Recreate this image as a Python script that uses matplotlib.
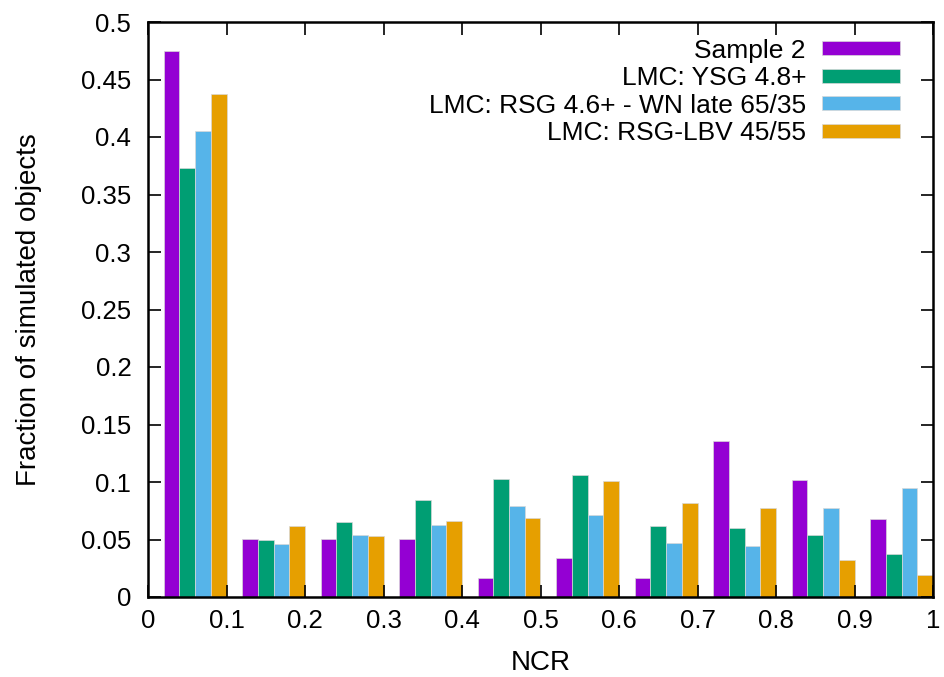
import numpy as np
import matplotlib.pyplot as plt
from matplotlib.patches import Rectangle

plt.rcParams['font.family'] = ['Liberation Sans', 'DejaVu Sans']

# NCR bins (left edges) and the fraction of objects in each bin
bin_left = [0.0, 0.1, 0.2, 0.3, 0.4, 0.5, 0.6, 0.7, 0.8, 0.9]
sample2 = [0.4746, 0.0508, 0.0508, 0.0508, 0.0169, 0.0339, 0.0169, 0.1356, 0.1017, 0.0678]
ysg = [0.373, 0.050, 0.065, 0.084, 0.103, 0.106, 0.062, 0.060, 0.054, 0.037]
rsg_wn = [0.405, 0.046, 0.054, 0.063, 0.079, 0.071, 0.047, 0.044, 0.077, 0.095]
rsg_lbv = [0.437, 0.062, 0.053, 0.066, 0.069, 0.101, 0.082, 0.077, 0.032, 0.019]

series = [
    ("Sample 2", sample2, "#9400D3"),
    ("LMC: YSG 4.8+", ysg, "#009E73"),
    ("LMC: RSG 4.6+ - WN late 65/35", rsg_wn, "#56B4E9"),
    ("LMC: RSG-LBV 45/55", rsg_lbv, "#E69F00"),
]

W, H = 944, 677
x0, x1, y0, y1 = 148, 933, 597, 22   # plot frame in pixels
ax_w, ax_h = x1 - x0, y0 - y1
fig = plt.figure(figsize=(W / 100, H / 100), dpi=100)
ax = fig.add_axes([x0 / W, (H - y0) / H, ax_w / W, ax_h / H])

bw = 0.02
x = np.array(bin_left)
for i, (name, vals, col) in enumerate(series):
    ax.bar(x + bw + i * bw, vals, width=bw, align='edge', color=col,
           edgecolor='#d8d8d8', linewidth=0.5, zorder=1)

ax.set_xlim(0, 1)
ax.set_ylim(0, 0.5)
xt = np.round(np.arange(0, 1.01, 0.1), 2)
yt = np.round(np.arange(0, 0.501, 0.05), 2)
ax.set_xticks(xt)
ax.set_xticklabels(['%g' % v for v in xt])
ax.set_yticks(yt)
ax.set_yticklabels(['%g' % v for v in yt])
ax.tick_params(direction='in', length=9, width=1.2, top=True, right=True,
               labelsize=18.5, zorder=3)
ax.tick_params(axis='x', pad=9)
ax.tick_params(axis='y', pad=12)
for s in ax.spines.values():
    s.set_linewidth(1.8)
    s.set_zorder(4)

ax.set_xlabel('NCR', fontsize=20, labelpad=12)
ax.set_ylabel('Fraction of simulated objects', fontsize=20, labelpad=28)

# key: right-aligned text with a colour swatch to its right
for i, (name, vals, col) in enumerate(series):
    yc = (y0 - (48.3 + 27.5 * i)) / ax_h
    ax.text((806 - x0) / ax_w, yc, name, transform=ax.transAxes,
            ha='right', va='center_baseline', fontsize=19)
    ax.add_patch(Rectangle(((822 - x0) / ax_w, yc - 7 / ax_h), 78 / ax_w, 14 / ax_h,
                           transform=ax.transAxes, facecolor=col,
                           edgecolor='#d8d8d8', linewidth=0.5, zorder=5))

fig.savefig('out.png', dpi=100)
